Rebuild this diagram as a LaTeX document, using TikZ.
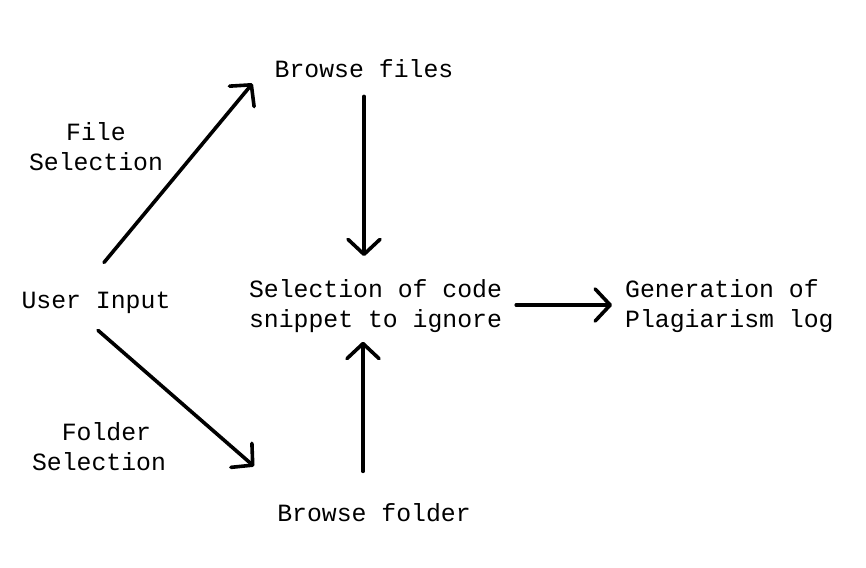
\documentclass[tikz,border=0pt]{standalone}
\usepackage{fontspec}
\setmonofont{Liberation Mono}
\usetikzlibrary{arrows.meta}
\tikzset{
  lbl/.style={font=\ttfamily\fontsize{24.8}{30}\selectfont, inner sep=0pt, align=center},
  flow/.style={line width=3.6pt, line cap=round, -{Straight Barb[length=15pt,width=32pt,round]}}
}
\begin{document}
\begin{tikzpicture}[x=1pt,y=-1pt]
\useasboundingbox (0,0) rectangle (866,567);
\node[lbl,anchor=base] (ui) at (96,308) {User Input};
\node[lbl,anchor=base] (bf) at (364,78) {Browse files};
\node[lbl,anchor=base] (bfo) at (374,521) {Browse folder};
\node[lbl] (sel) at (375.5,306.5) {Selection of code\\snippet to ignore};
\node[lbl,align=left,anchor=west] (gen) at (625,306.5) {Generation of\\Plagiarism log};
\node[lbl] (fs) at (96,146.3) {File\\Selection};
\node[lbl] (fos) at (99,446.3) {\hphantom{F}Folder\\Selection};
\draw[flow] ([shift={(8,-28.8)}]ui.north) -- ([shift={(-22,5)}]bf.south west);
\draw[flow] ([shift={(2,17)}]ui.south) -- ([shift={(-23,-36.5)}]bfo.north west);
\draw[flow] ([shift={(0,18)}]bf.south) -- ([shift={(-11.5,-23.6)}]sel.north);
\draw[flow] ([shift={(-11,-31.5)}]bfo.north) -- ([shift={(-12.5,8.5)}]sel.south);
\draw[flow] ([shift={(14,-1.5)}]sel.east) -- ([shift={(-13,-1.5)}]gen.west);
\end{tikzpicture}
\end{document}
